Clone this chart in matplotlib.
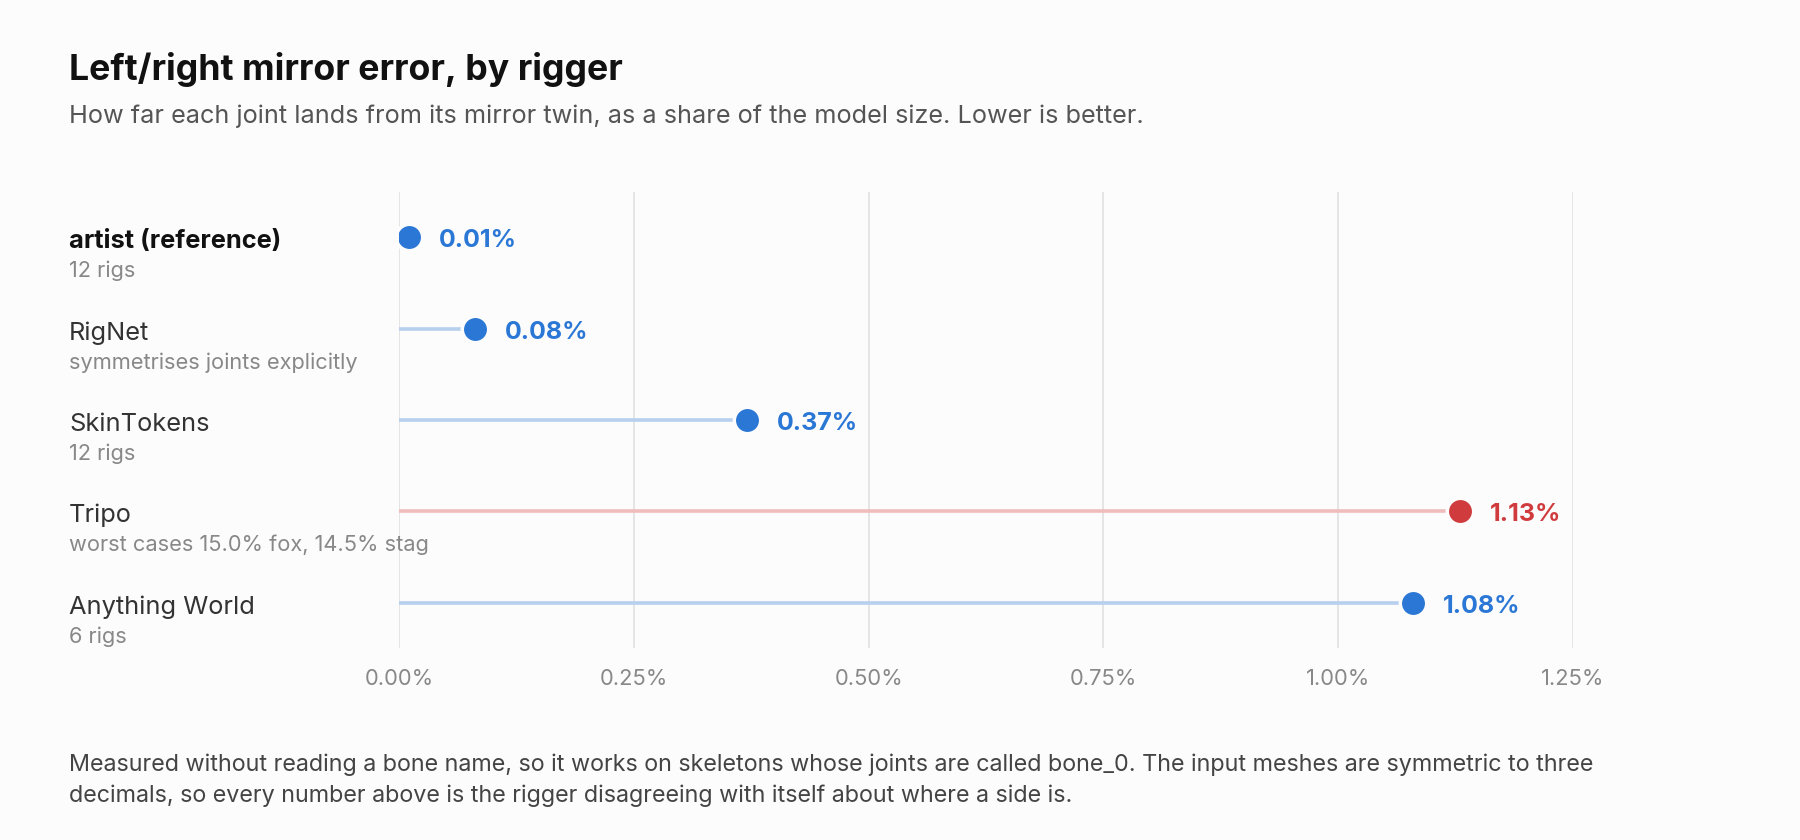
import matplotlib.pyplot as plt
from matplotlib.ticker import FuncFormatter

plt.rcParams['font.family'] = ['Inter', 'DejaVu Sans']

riggers = ['artist (reference)', 'RigNet', 'SkinTokens', 'Tripo', 'Anything World']
notes = ['12 rigs', 'symmetrises joints explicitly', '12 rigs',
         'worst cases 15.0% fox, 14.5% stag', '6 rigs']
errors = [0.01, 0.08, 0.37, 1.13, 1.08]
flagged = [False, False, False, True, False]
ticks = [0.0, 0.25, 0.5, 0.75, 1.0, 1.25]

bg = '#fcfcfc'
blue, blue_light = '#2a77d6', '#b6d0ee'
red, red_light = '#d03b3d', '#efbdbd'

fig = plt.figure(figsize=(18, 8.4), dpi=100, facecolor=bg)
ax = fig.add_axes([0.2219, 0.2281, 0.6519, 0.5438])
ax.set_facecolor(bg)

for i, (name, note, v, bad) in enumerate(zip(riggers, notes, errors, flagged)):
    c, cl = (red, red_light) if bad else (blue, blue_light)
    ax.plot([0, v], [i, i], color=cl, lw=2.6, solid_capstyle='butt', zorder=2)
    ax.plot(v, i, 'o', ms=19, color=c, mec=bg, mew=2.5, zorder=3)
    ax.annotate(f'{v:.2f}%', xy=(v, i), xytext=(30, -1), textcoords='offset pixels',
                va='center_baseline', ha='left', fontsize=18, fontweight='bold', color=c)
    ax.annotate(name, xy=(0.0383, i), xycoords=('figure fraction', 'data'),
                xytext=(0, -11), textcoords='offset pixels', va='baseline',
                fontsize=18.3, color='#111111' if i == 0 else '#333333',
                fontweight='bold' if i == 0 else 'normal', annotation_clip=False)
    ax.annotate(note, xy=(0.0383, i), xycoords=('figure fraction', 'data'),
                xytext=(0, -40), textcoords='offset pixels', va='baseline',
                fontsize=15.7, color='#888888', annotation_clip=False)

ax.set_xlim(0, 1.25)
ax.set_ylim(len(riggers) - 0.5, -0.5)
ax.set_xticks(ticks)
ax.xaxis.set_major_formatter(FuncFormatter(lambda x, p: f'{x:.2f}%'))
ax.set_yticks([])
ax.tick_params(axis='x', length=0, pad=15, labelsize=15.8, labelcolor='#888888')
ax.grid(axis='x', color='#e3e3e3', lw=1.3)
ax.set_axisbelow(True)
for s in ax.spines.values():
    s.set_visible(False)

fig.text(0.0383, 0.9044, 'Left/right mirror error, by rigger', fontsize=25.7,
         fontweight='bold', color='#111111', va='baseline')
fig.text(0.0383, 0.853, 'How far each joint lands from its mirror twin, as a share of the model size. '
         'Lower is better.', fontsize=18.2, color='#555555', va='baseline')
fig.text(0.0383, 0.045, 'Measured without reading a bone name, so it works on skeletons whose joints '
         'are called bone_0. The input meshes are symmetric to three\ndecimals, so every number '
         'above is the rigger disagreeing with itself about where a side is.',
         fontsize=16.8, color='#444444', va='baseline', linespacing=1.52)

fig.savefig('out.png', dpi=100, facecolor=bg)
